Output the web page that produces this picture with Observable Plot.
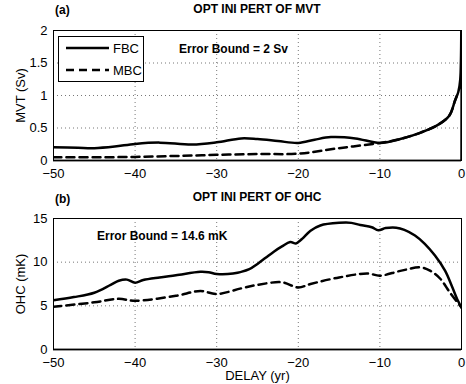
<!DOCTYPE html>
<html><head><meta charset="utf-8">
<script src="https://cdn.jsdelivr.net/npm/d3@7"></script>
<script src="https://cdn.jsdelivr.net/npm/@observablehq/plot@0.6"></script>
<style>
body{margin:0;background:#fff;font-family:"Liberation Sans",Arial,sans-serif;}
#wrap{position:relative;width:466px;height:384px;overflow:hidden;}
.p{position:absolute;left:0;}
.t{position:absolute;font-weight:bold;font-size:12px;white-space:nowrap;color:#000;}
.legend{position:absolute;border:1px solid #000;background:#fff;font-size:13px;}
.legend div{display:flex;align-items:center;height:22px;}
</style></head>
<body><div id="wrap"></div>
<script>
// ---- data ----
const xTicks = [-50, -40, -30, -20, -10, 0];
const mvtTicks = [0, 0.5, 1, 1.5, 2];
const ohcTicks = [0, 5, 10, 15];
const seriesNames = ["FBC", "MBC"];

const mvtFBC = [[-50,0.205],[-47,0.195],[-45,0.19],[-42.5,0.215],[-40,0.255],[-37,0.275],[-33,0.245],[-30,0.28],[-27,0.34],[-25,0.33],[-22.5,0.3],[-20,0.27],[-18,0.32],[-16,0.36],[-13,0.34],[-10,0.27],[-7.5,0.33],[-5,0.43],[-3,0.54],[-1.5,0.69],[-0.8,0.92],[-0.4,1.05],[-0.15,1.25],[0,2.5],[0,0]];
const mvtMBC = [[-50,0.05],[-45,0.05],[-40,0.055],[-35,0.07],[-30,0.087],[-25,0.1],[-20,0.105],[-15,0.19],[-10,0.27],[-7.5,0.33],[-5,0.43],[-3,0.54],[-1.5,0.69],[-0.8,0.92],[-0.4,1.05]];

const ohcFBC = [[-50,5.65],[-47.5,6.0],[-45,6.5],[-43,7.4],[-42,7.87],[-41,8.0],[-40,7.64],[-39,7.95],[-37,8.25],[-35,8.5],[-32,8.9],[-31,8.85],[-30,8.64],[-28,8.7],[-26,9.2],[-25,9.8],[-24,10.5],[-23,11.2],[-22,11.8],[-21,12.3],[-20.3,12.15],[-20,12.3],[-19.5,12.7],[-18.5,13.6],[-17.3,14.2],[-15,14.5],[-13.5,14.5],[-12.4,14.25],[-11,14.0],[-10.2,13.65],[-9.3,13.9],[-8,13.95],[-7,13.7],[-5.7,13.05],[-4.5,12.1],[-3.25,10.75],[-2,9.0],[-1.2,7.3],[-0.45,5.6],[0,4.8]];
const ohcMBC = [[-50,4.9],[-45,5.4],[-42,5.8],[-40,5.57],[-35,6.15],[-32,6.7],[-30,6.35],[-27,7.0],[-25,7.4],[-22,7.7],[-20,7.1],[-18.5,7.5],[-15,8.25],[-11.5,8.7],[-10,8.45],[-7.5,9.0],[-5,9.4],[-3.8,9.0],[-2.6,8.1],[-1.4,6.5],[0,4.8]];

const titles = ["OPT INI PERT OF MVT", "OPT INI PERT OF OHC"];
const panelTags = ["(a)", "(b)"];
const errorBounds = ["Error Bound = 2 Sv", "Error Bound = 14.6 mK"];
const yLabels = ["MVT (Sv)", "OHC (mK)"];
const xLabel = "DELAY (yr)";

// ---- helpers ----
const fmtX = d => d < 0 ? "\u2212" + (-d) : String(d);
const fmtY = d => String(d);

function panel({fbc, mbc, yDomain, yTicks, yLabel, height, mt, mb, showXLabel}) {
  return Plot.plot({
    width: 466, height, marginLeft: 53, marginRight: 5, marginTop: mt, marginBottom: mb,
    style: {fontFamily: '"Liberation Sans", Arial, sans-serif', fontSize: "13px", color: "#000", background: "transparent", overflow: "visible"},
    x: {domain: [-50, 0]},
    y: {domain: yDomain},
    marks: [
      Plot.gridX(xTicks.slice(1, -1), {stroke: "#777", strokeOpacity: 1, strokeDasharray: "1,3"}),
      Plot.gridY(yTicks.slice(1, -1), {stroke: "#777", strokeOpacity: 1, strokeDasharray: "1,3"}),
      Plot.ruleY([0], {stroke: "#999", strokeWidth: 3}),
      Plot.line(mbc, {x: d => d[0], y: d => d[1], stroke: "#000", strokeWidth: 2.5, strokeDasharray: "8,5", curve: "catmull-rom", clip: true}),
      Plot.line(fbc, {x: d => d[0], y: d => d[1], stroke: "#000", strokeWidth: 2.5, curve: "catmull-rom", clip: true}),
      Plot.frame({stroke: "#000", strokeWidth: 1}),
      Plot.axisX(xTicks, {tickFormat: fmtX, tickSize: 0, tickPadding: 8, fontSize: 13,
        label: showXLabel ? xLabel : null, labelAnchor: "center", labelArrow: "none", labelOffset: 30}),
      Plot.axisY(yTicks, {tickFormat: fmtY, tickSize: 0, tickPadding: 6, fontSize: 13,
        label: yLabel, labelAnchor: "center", labelArrow: "none", labelOffset: 38})
    ]
  });
}

const wrap = document.getElementById("wrap");
const topPlot = panel({fbc: mvtFBC, mbc: mvtMBC, yDomain: [0, 2], yTicks: mvtTicks, yLabel: yLabels[0], height: 190, mt: 30, mb: 30, showXLabel: false});
topPlot.classList.add("p"); topPlot.style.top = "0px";
wrap.appendChild(topPlot);
const botPlot = panel({fbc: ohcFBC, mbc: ohcMBC, yDomain: [0, 15], yTicks: ohcTicks, yLabel: yLabels[1], height: 194, mt: 28, mb: 35, showXLabel: true});
botPlot.classList.add("p"); botPlot.style.top = "190px";
wrap.appendChild(botPlot);

function addText(txt, css) {
  const d = document.createElement("div");
  d.className = "t"; d.textContent = txt;
  Object.assign(d.style, css);
  wrap.appendChild(d);
  return d;
}
addText(panelTags[0], {left: "55px", top: "3px", fontSize: "12px"});
addText(titles[0], {left: "257px", top: "2px", transform: "translateX(-50%)"});
addText(errorBounds[0], {left: "179px", top: "42px"});
addText(panelTags[1], {left: "55px", top: "192px", fontSize: "12px"});
addText(titles[1], {left: "257px", top: "190px", transform: "translateX(-50%)"});
addText(errorBounds[1], {left: "97px", top: "229px"});

// legend
const lg = document.createElement("div");
lg.className = "legend";
Object.assign(lg.style, {left: "58px", top: "36px", width: "84px", height: "44px", padding: "0"});
seriesNames.forEach((name, i) => {
  const row = document.createElement("div");
  row.innerHTML = `<svg width="46" height="10" style="margin-left:6px"><line x1="1" x2="44" y1="5" y2="5" stroke="#000" stroke-width="2.5" ${i ? 'stroke-dasharray="8,5"' : ''}/></svg><span style="margin-left:2px">${name}</span>`;
  lg.appendChild(row);
});
wrap.appendChild(lg);
</script></body></html>
